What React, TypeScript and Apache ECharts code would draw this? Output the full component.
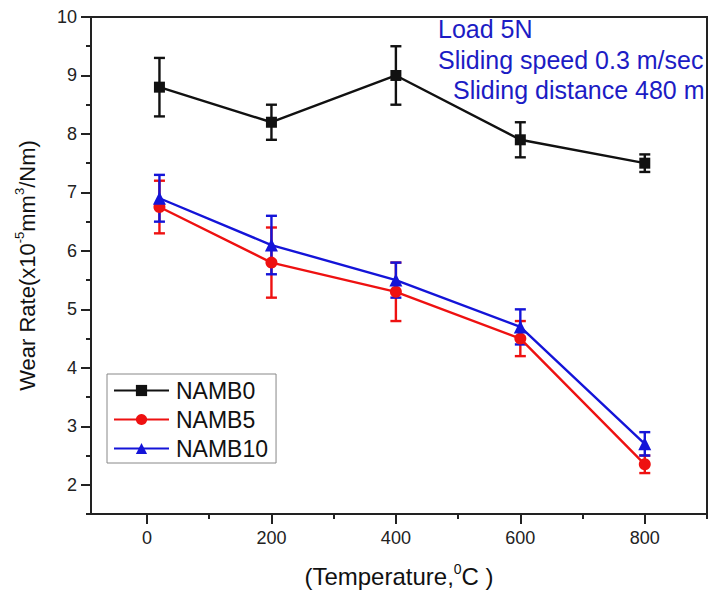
import React, { useEffect, useRef } from 'react';
import * as echarts from 'echarts';

// ---- data ----
const temperatures = [20, 200, 400, 600, 800];
const namb0 = [8.8, 8.2, 9.0, 7.9, 7.5];
const namb0Err = [0.5, 0.3, 0.5, 0.3, 0.15];
const namb5 = [6.75, 5.8, 5.3, 4.5, 2.35];
const namb5Err = [0.45, 0.6, 0.5, 0.3, 0.15];
const namb10 = [6.9, 6.1, 5.5, 4.7, 2.7];
const namb10Err = [0.4, 0.5, 0.3, 0.3, 0.2];

const seriesNames = ['NAMB0', 'NAMB5', 'NAMB10'];

const xMajorTicks = [0, 200, 400, 600, 800];
const xMinorTicks = [100, 300, 500, 700, 900];
const yMajorTicks = [2, 3, 4, 5, 6, 7, 8, 9, 10];
const yMinorTicks = [1.5, 2.5, 3.5, 4.5, 5.5, 6.5, 7.5, 8.5, 9.5];

const notes = ['Load 5N', 'Sliding speed 0.3 m/sec', 'Sliding distance 480 m'];

const FONT = 'Liberation Sans, Arial, Helvetica, sans-serif';
const AXIS_COLOR = '#222';
const colors = ['#111111', '#ee1111', '#1414d8'];
const symbols = ['rect', 'circle', 'triangle'];
const symbolSizes = [11, 12, 13];

function zip(xs: number[], ys: number[]) {
  return xs.map((x, i) => [x, ys[i]]);
}
function zip3(xs: number[], ys: number[], es: number[]) {
  return xs.map((x, i) => [x, ys[i], es[i]]);
}

function errorSeries(name: string, data: number[][], color: string) {
  return {
    type: 'custom',
    name,
    xAxisIndex: 0,
    yAxisIndex: 0,
    data,
    encode: { x: 0, y: 1 },
    renderItem: (params: any, api: any) => {
      const x = api.value(0);
      const y = api.value(1);
      const e = api.value(2);
      const top = api.coord([x, y + e]);
      const bot = api.coord([x, y - e]);
      const hw = 5.5;
      const style = { stroke: color, lineWidth: 2.4 };
      return {
        type: 'group',
        children: [
          { type: 'line', shape: { x1: top[0], y1: top[1], x2: bot[0], y2: bot[1] }, style },
          { type: 'line', shape: { x1: top[0] - hw, y1: top[1], x2: top[0] + hw, y2: top[1] }, style },
          { type: 'line', shape: { x1: bot[0] - hw, y1: bot[1], x2: bot[0] + hw, y2: bot[1] }, style },
        ],
      };
    },
    silent: true,
  };
}

function lineSeries(i: number, values: number[]) {
  return {
    type: 'line',
    name: seriesNames[i],
    xAxisIndex: 0,
    yAxisIndex: 0,
    data: zip(temperatures, values),
    symbol: symbols[i],
    symbolSize: symbolSizes[i],
    showAllSymbol: true,
    lineStyle: { color: colors[i], width: 2.4 },
    itemStyle: { color: colors[i] },
  };
}

export default function App() {
  const ref = useRef<HTMLDivElement>(null);

  useEffect(() => {
    if (!ref.current) return;
    const chart = echarts.init(ref.current, undefined, { renderer: 'svg' });

    const option: any = {
      animation: false,
      backgroundColor: '#fff',
      textStyle: { fontFamily: FONT },
      grid: {
        left: 91,
        right: 2,
        top: 17,
        bottom: 85,
        show: true,
        borderColor: AXIS_COLOR,
        borderWidth: 2,
        backgroundColor: 'transparent',
      },
      legend: {
        data: seriesNames,
        orient: 'vertical',
        left: 107,
        top: 374,
        padding: [5, 8, 3, 6],
        itemGap: 6,
        itemWidth: 55,
        itemHeight: 14,
        borderColor: '#888',
        borderWidth: 1,
        textStyle: { fontSize: 23, color: '#111', fontFamily: FONT, padding: [0, 0, 0, 2] },
        selectedMode: false,
      },
      xAxis: [
        {
          type: 'value',
          min: -90,
          max: 900,
          name: '{a|(Temperature,}{s|0}{a|C )}',
          nameLocation: 'middle',
          nameGap: 48,
          nameTextStyle: {
            rich: {
              a: { fontSize: 24, color: '#111', fontFamily: FONT, lineHeight: 28 },
              s: { fontSize: 14, color: '#111', fontFamily: FONT, verticalAlign: 'top' },
            },
          },
          axisLine: { show: true, onZero: false, lineStyle: { color: AXIS_COLOR, width: 2 } },
          axisTick: { show: true, length: 10, customValues: xMajorTicks, lineStyle: { color: AXIS_COLOR, width: 2 } },
          axisLabel: { customValues: xMajorTicks, fontSize: 18, color: '#222', margin: 15, fontFamily: FONT },
          splitLine: { show: false },
        },
        {
          type: 'value',
          min: -90,
          max: 900,
          position: 'bottom',
          axisLine: { show: false, onZero: false },
          axisTick: { show: true, length: 5, customValues: xMinorTicks, lineStyle: { color: AXIS_COLOR, width: 2 } },
          axisLabel: { show: false },
          splitLine: { show: false },
        },
      ],
      yAxis: [
        {
          type: 'value',
          min: 1.5,
          max: 10,
          name: '{a|Wear Rate(x10}{s|-5}{a|mm}{s|3}{a|/Nm)}',
          nameLocation: 'middle',
          nameGap: 50,
          nameTextStyle: {
            rich: {
              a: { fontSize: 22, color: '#111', fontFamily: FONT, lineHeight: 28 },
              s: { fontSize: 13, color: '#111', fontFamily: FONT, verticalAlign: 'top' },
            },
          },
          axisLine: { show: true, onZero: false, lineStyle: { color: AXIS_COLOR, width: 2 } },
          axisTick: { show: true, length: 10, customValues: yMajorTicks, lineStyle: { color: AXIS_COLOR, width: 2 } },
          axisLabel: { customValues: yMajorTicks, fontSize: 18, color: '#222', margin: 14, fontFamily: FONT },
          splitLine: { show: false },
        },
        {
          type: 'value',
          min: 1.5,
          max: 10,
          position: 'left',
          axisLine: { show: false, onZero: false },
          axisTick: { show: true, length: 5, customValues: yMinorTicks, lineStyle: { color: AXIS_COLOR, width: 2 } },
          axisLabel: { show: false },
          splitLine: { show: false },
        },
      ],
      graphic: [
        {
          type: 'text',
          x: 438,
          y: 29,
          style: { text: notes[0], fill: '#1c1cc4', fontSize: 25, fontFamily: FONT, textVerticalAlign: 'middle' },
        },
        {
          type: 'text',
          x: 438,
          y: 60,
          style: { text: notes[1], fill: '#1c1cc4', fontSize: 25, fontFamily: FONT, textVerticalAlign: 'middle' },
        },
        {
          type: 'text',
          x: 453,
          y: 90,
          style: { text: notes[2], fill: '#1c1cc4', fontSize: 25, fontFamily: FONT, textVerticalAlign: 'middle' },
        },
      ],
      series: [
        errorSeries('NAMB0 error', zip3(temperatures, namb0, namb0Err), colors[0]),
        lineSeries(0, namb0),
        errorSeries('NAMB5 error', zip3(temperatures, namb5, namb5Err), colors[1]),
        lineSeries(1, namb5),
        errorSeries('NAMB10 error', zip3(temperatures, namb10, namb10Err), colors[2]),
        lineSeries(2, namb10),
      ],
    };

    chart.setOption(option);
    return () => {
      chart.dispose();
    };
  }, []);

  return (
    <div
      ref={ref}
      style={{ position: 'absolute', left: 0, top: 0, width: 709, height: 599, background: '#fff' }}
    />
  );
}
